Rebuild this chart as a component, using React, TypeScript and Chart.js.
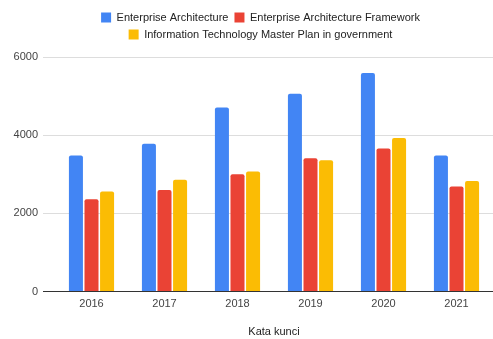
import React, { useEffect, useRef } from "react";
import { Chart, registerables } from "chart.js";

Chart.register(...registerables);

const categories = ["2016", "2017", "2018", "2019", "2020", "2021"];
const seriesNames = [
  "Enterprise Architecture",
  "Enterprise Architecture Framework",
  "Information Technology Master Plan in government",
];
const enterpriseArchitecture = [3480, 3780, 4710, 5060, 5590, 3480];
const enterpriseArchitectureFramework = [2360, 2600, 3000, 3410, 3660, 2690];
const itMasterPlan = [2560, 2860, 3070, 3360, 3930, 2830];
const colors = ["#4285F4", "#EA4335", "#FBBC04"];
const xTitle = "Kata kunci";

const FONT = "Arial, 'Liberation Sans', sans-serif";

const legendTweak = {
  id: "legendTweak",
  afterInit(chart: any) {
    const legend = chart.legend;
    if (legend && !legend.__patched) {
      const origFit = legend.fit.bind(legend);
      legend.fit = function () {
        origFit();
        this.height += 7;
      };
      legend.__patched = true;
    }
  },
  afterLayout(chart: any) {
    const legend = chart.legend;
    if (legend) {
      legend.left += 14;
      legend.right += 14;
    }
  },
};

export default function App() {
  const ref = useRef<HTMLCanvasElement | null>(null);

  useEffect(() => {
    document.body.style.margin = "0";
    const canvas = ref.current;
    if (!canvas) return;
    const values = [enterpriseArchitecture, enterpriseArchitectureFramework, itMasterPlan];
    const chart = new Chart(canvas, {
      type: "bar",
      data: {
        labels: categories,
        datasets: values.map((v, i) => ({
          label: seriesNames[i],
          data: v,
          backgroundColor: colors[i],
          borderRadius: 2,
          borderSkipped: "bottom",
          categoryPercentage: 0.64,
          barPercentage: 0.9,
        })),
      },
      plugins: [legendTweak],
      options: {
        animation: false,
        responsive: false,
        maintainAspectRatio: false,
        layout: { padding: { top: 6, right: 0, bottom: 0, left: 0 } },
        plugins: {
          tooltip: { enabled: false },
          legend: {
            position: "top",
            labels: {
              boxWidth: 10,
              boxHeight: 10,
              padding: 6,
              color: "#222",
              font: { family: FONT, size: 11 },
            },
          },
        },
        scales: {
          x: {
            grid: { display: false, drawTicks: false },
            border: { display: true, color: "#333", width: 1 },
            ticks: {
              color: "#444",
              padding: 6,
              font: { family: FONT, size: 11 },
            },
            title: {
              display: true,
              text: xTitle,
              color: "#222",
              padding: { top: 9, bottom: 0 },
              font: { family: FONT, size: 11 },
            },
          },
          y: {
            min: 0,
            max: 6000,
            ticks: {
              stepSize: 2000,
              color: "#444",
              padding: 5,
              font: { family: FONT, size: 11 },
              callback: (v: any) => String(v),
            },
            grid: {
              color: (ctx: any) => (ctx.tick && ctx.tick.value === 0 ? "#333" : "#dddddd"),
              tickLength: 12,
            },
            border: { display: false },
            afterFit: (scale: any) => {
              scale.width = 55;
            },
          },
        },
      },
    });
    return () => chart.destroy();
  }, []);

  return (
    <div style={{ width: 493, height: 339, background: "#fff" }}>
      <canvas ref={ref} width={493} height={339} style={{ display: "block" }} />
    </div>
  );
}
